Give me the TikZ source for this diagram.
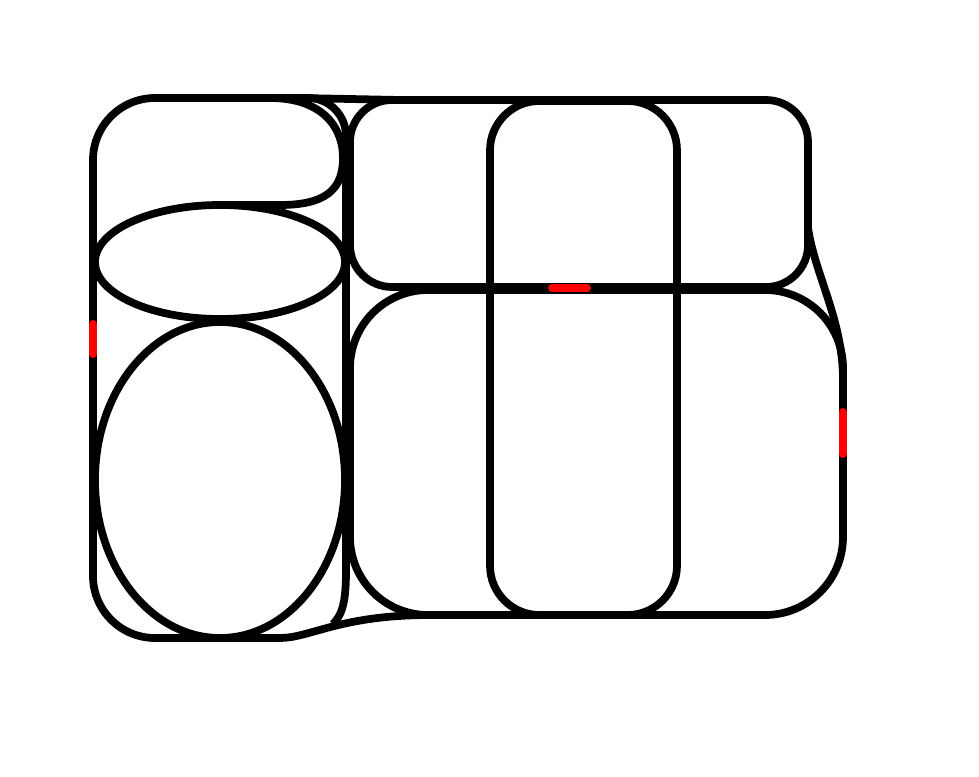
\documentclass[tikz,border=0pt]{standalone}
\begin{document}
\begin{tikzpicture}[x=0.75pt,y=-0.75pt,line join=round,
  outline/.style={draw=black,line width=5.8pt},
  port/.style={draw=red,line width=6pt,line cap=round}]
\useasboundingbox (0,0) rectangle (979,777);
% left column with bottom bridge
\draw[outline] (346,570) -- (346,136) arc[start angle=0,end angle=-90,radius=38]
  -- (155,98) arc[start angle=270,end angle=180,radius=62]
  -- (93,576) arc[start angle=180,end angle=90,radius=62]
  -- (280,638) .. controls (310,638) and (340,615) .. (430,615);
\draw[outline] (346,570) .. controls (346,600) and (343,614) .. (333,624);
% top blob
\draw[outline] (270,98) .. controls (320,98) and (343,125) .. (343,158)
  .. controls (343,190) and (325,205) .. (280,205) -- (220,205);
% ellipses
\draw[outline] (220,262) ellipse [x radius=125, y radius=57];
\draw[outline] (220,480) ellipse [x radius=125, y radius=158];
% top bridge
\draw[outline] (300,98) -- (400,100);
% right boxes
\draw[outline,rounded corners=31.5pt] (350,100) rectangle (808,287);
\draw[outline,rounded corners=58.5pt] (350,290) rectangle (843,615);
\draw[outline,rounded corners=37pt] (490,101) rectangle (677,615);
% right bridge
\draw[outline] (808,228) .. controls (815,275) and (843,320) .. (843,380);
% red ports
\draw[port] (93,324) -- (93,354);
\draw[port] (552,288) -- (587,288);
\draw[port] (843,412) -- (843,454);
\end{tikzpicture}
\end{document}
